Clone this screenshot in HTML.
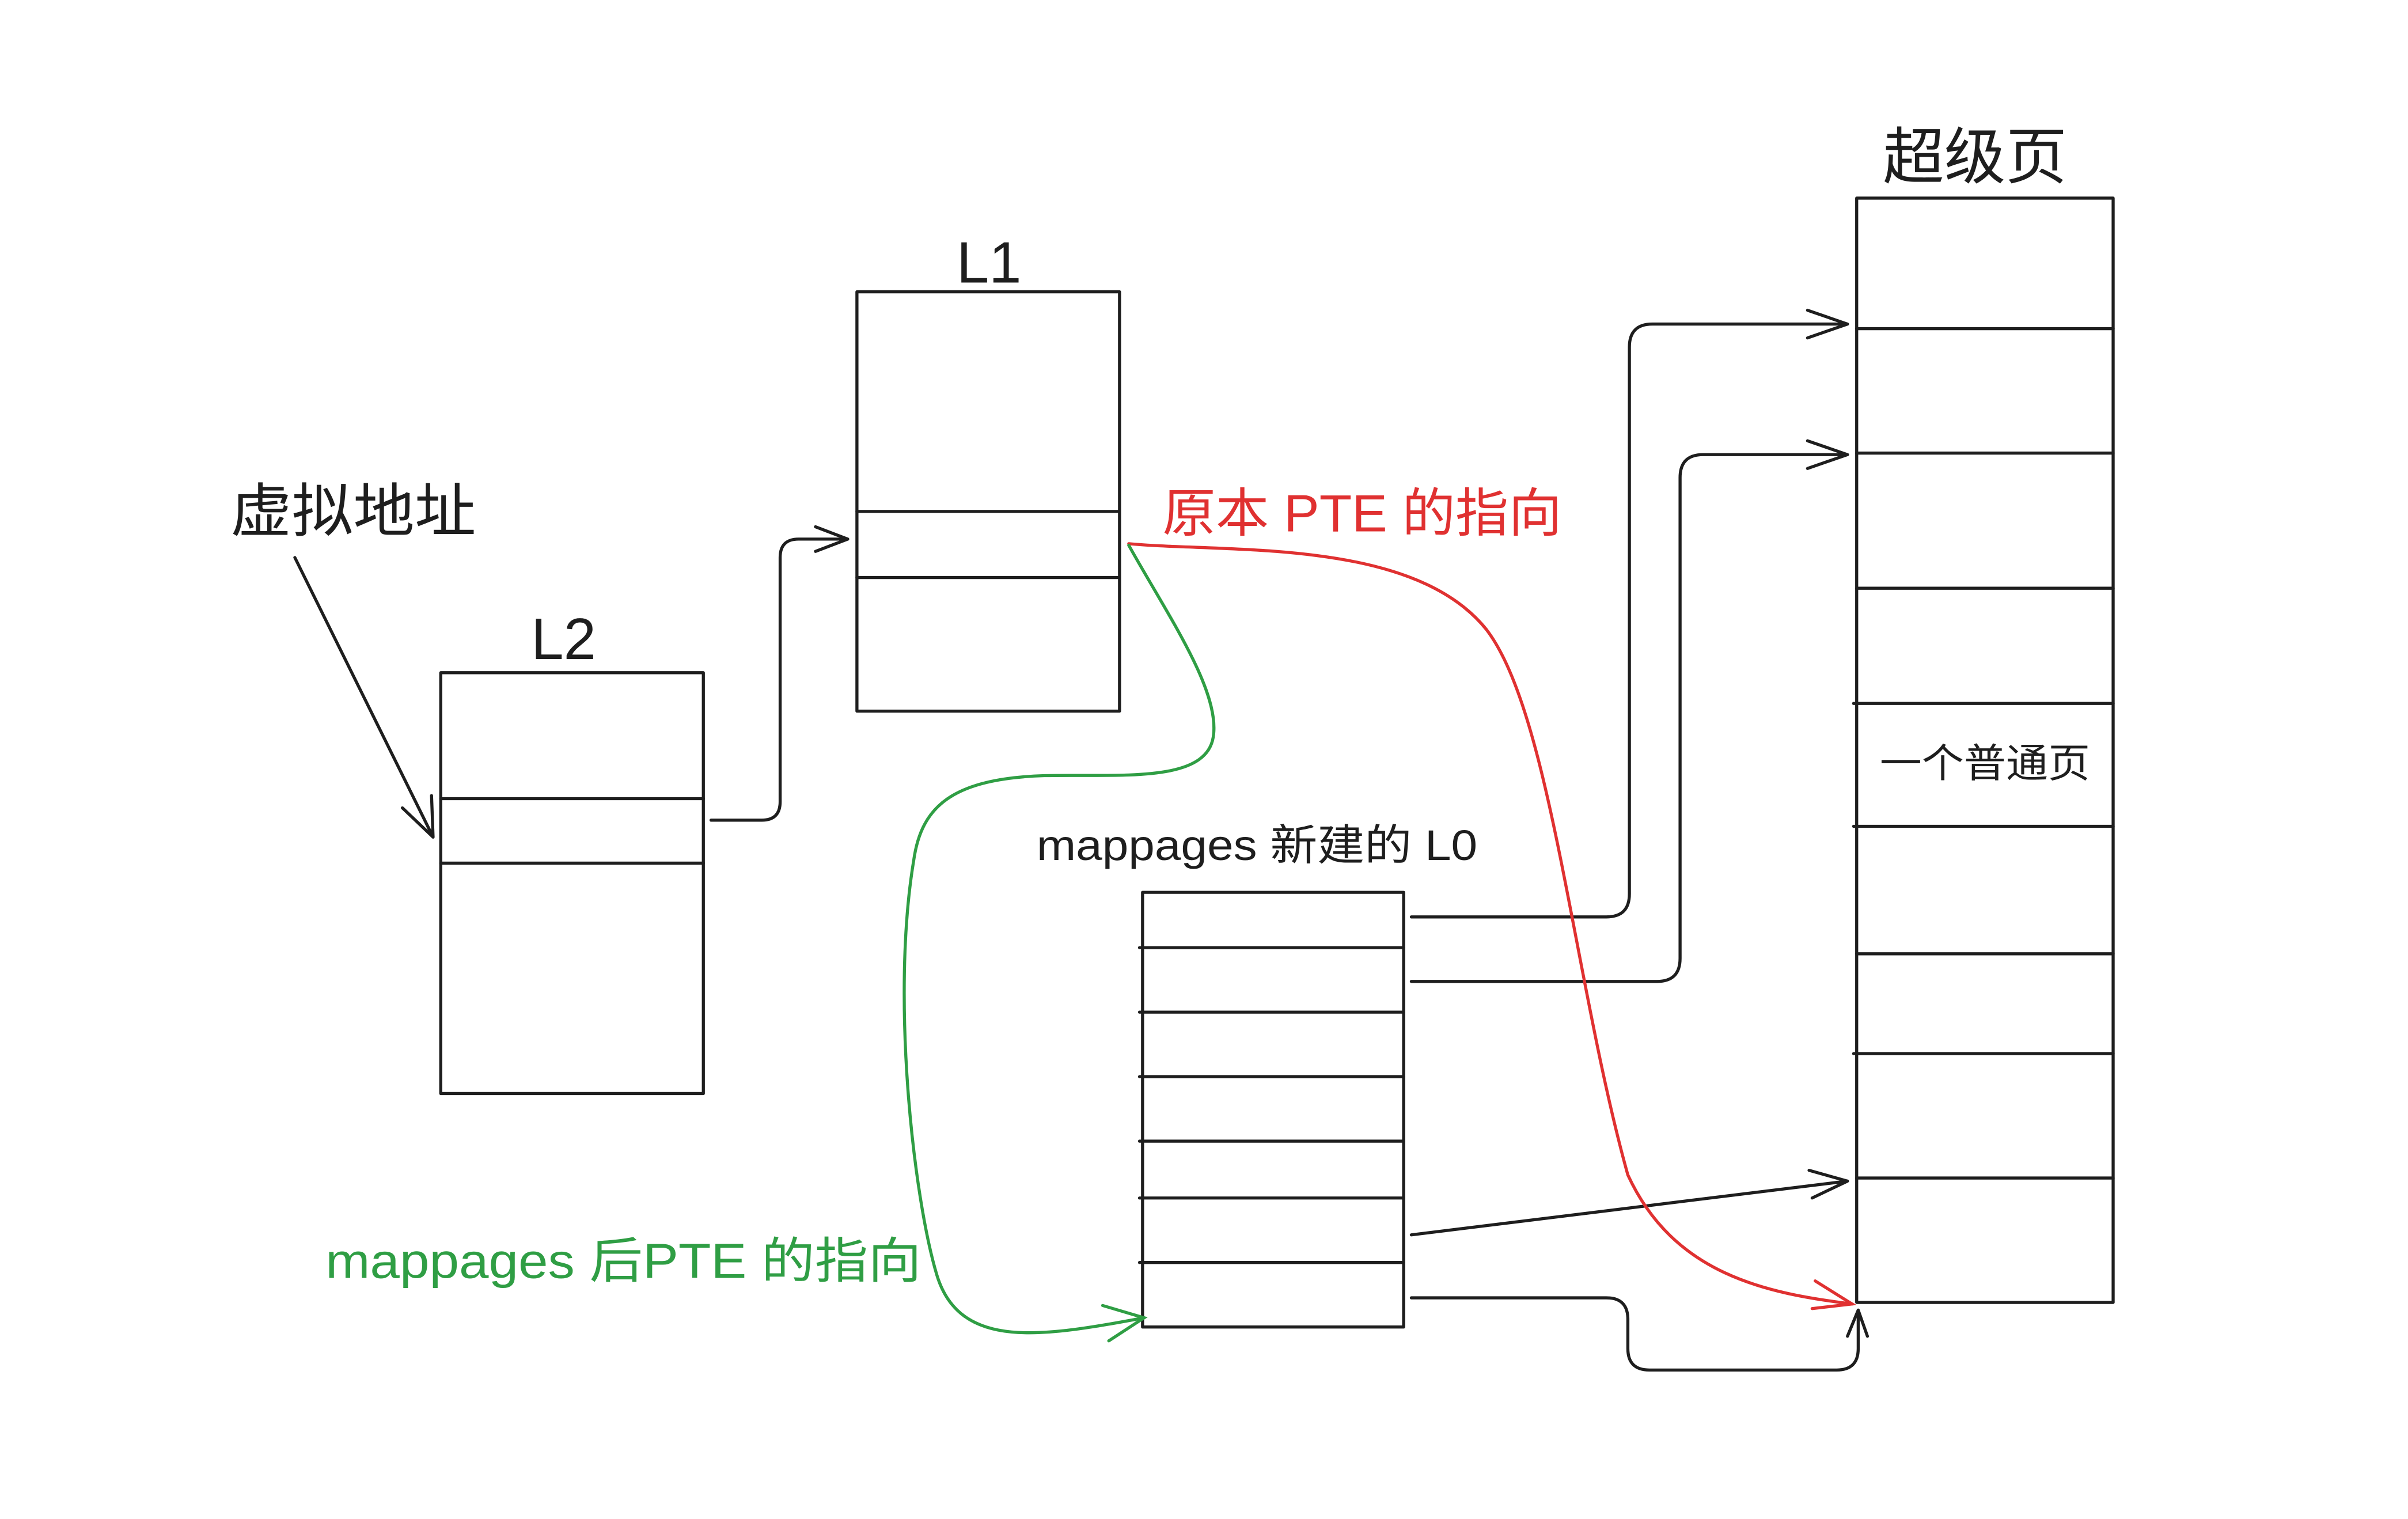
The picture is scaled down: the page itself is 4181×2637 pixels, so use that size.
<!DOCTYPE html>
<html><head><meta charset="utf-8"><style>
html,body{margin:0;padding:0;background:#fff;}
svg{display:block;}
text{font-family:"Liberation Sans","Noto Sans CJK SC",sans-serif;}
</style></head><body>
<svg width="4181" height="2637" viewBox="0 0 1568 989" preserveAspectRatio="none" xmlns="http://www.w3.org/2000/svg">
<rect width="1568" height="989" fill="#fff"/>
<g fill="none" stroke="#1e1e1e" stroke-width="2" stroke-linecap="round" stroke-linejoin="round">
<rect x="287" y="438" width="171" height="274"/>
<line x1="287" y1="520" x2="458" y2="520"/>
<line x1="287" y1="562" x2="458" y2="562"/>
<rect x="558" y="190" width="171" height="273"/>
<line x1="558" y1="333" x2="729" y2="333"/>
<line x1="558" y1="376" x2="729" y2="376"/>
<rect x="744" y="581" width="170" height="283"/>
<line x1="742" y1="617" x2="914" y2="617"/>
<line x1="742" y1="659" x2="914" y2="659"/>
<line x1="742" y1="701" x2="914" y2="701"/>
<line x1="742" y1="743" x2="914" y2="743"/>
<line x1="742" y1="780" x2="914" y2="780"/>
<line x1="742" y1="822" x2="914" y2="822"/>
<rect x="1209" y="129" width="167" height="719"/>
<line x1="1209" y1="214" x2="1376" y2="214"/>
<line x1="1209" y1="295" x2="1376" y2="295"/>
<line x1="1209" y1="383" x2="1376" y2="383"/>
<line x1="1207" y1="458" x2="1376" y2="458"/>
<line x1="1207" y1="538" x2="1376" y2="538"/>
<line x1="1209" y1="621" x2="1376" y2="621"/>
<line x1="1207" y1="686" x2="1376" y2="686"/>
<line x1="1209" y1="767" x2="1376" y2="767"/>
<path d="M192,363 L282,545"/>
<path d="M262,526 L282,545 L281,518"/>
<path d="M463,534 H496 q12,0 12,-12 V363 q0,-12 12,-12 H552"/>
<path d="M531,343 L552,351 L531,359"/>
<path d="M919,597 H1046 q15,0 15,-15 V226 q0,-15 15,-15 H1203"/>
<path d="M1177,202 L1203,211 L1177,220"/>
<path d="M919,639 H1079 q15,0 15,-15 V311 q0,-15 15,-15 H1203"/>
<path d="M1177,287 L1203,296 L1177,305"/>
<path d="M919,804 L1203,769"/>
<path d="M1178,762 L1203,769 L1180,780"/>
<path d="M919,845 H1046 q14,0 14,14 V878 q0,14 14,14 H1196 q14,0 14,-14 V853"/>
<path d="M1203,870 L1210,853 L1216,870"/>
</g>
<g fill="none" stroke="#e03131" stroke-width="2" stroke-linecap="round">
<path d="M735,354 C800,360 920,350 968,410 C1010,465 1025,640 1060,765 C1090,830 1150,842 1206,849"/>
<path d="M1182,834 L1206,849 L1180,852"/>
</g>
<g fill="none" stroke="#2f9e44" stroke-width="2" stroke-linecap="round">
<path d="M735,355 C760,400 795,450 790,480 C785,510 730,504 680,505 C620,507 600,525 595,560 C580,650 595,780 610,830 C625,880 680,870 745,858"/>
<path d="M718,850 L745,858 L722,873"/>
</g>
<g fill="#1e1e1e">
<text x="150" y="346" font-size="38" textLength="160" lengthAdjust="spacingAndGlyphs">虚拟地址</text>
<text x="367" y="429" font-size="38" text-anchor="middle">L2</text>
<text x="644" y="184" font-size="38" text-anchor="middle">L1</text>
<text x="1286" y="116" font-size="40" text-anchor="middle">超级页</text>
<text x="1224" y="506" font-size="26" textLength="137" lengthAdjust="spacingAndGlyphs">一个普通页</text>
<text x="675" y="560" font-size="28" textLength="287" lengthAdjust="spacingAndGlyphs">mappages 新建的 L0</text>
</g>
<text x="757" y="346" font-size="34" fill="#e03131" textLength="260" lengthAdjust="spacingAndGlyphs">原本 PTE 的指向</text>
<text x="212" y="832" font-size="32" fill="#2f9e44" textLength="388" lengthAdjust="spacingAndGlyphs">mappages 后PTE 的指向</text>
</svg>
</body></html>
